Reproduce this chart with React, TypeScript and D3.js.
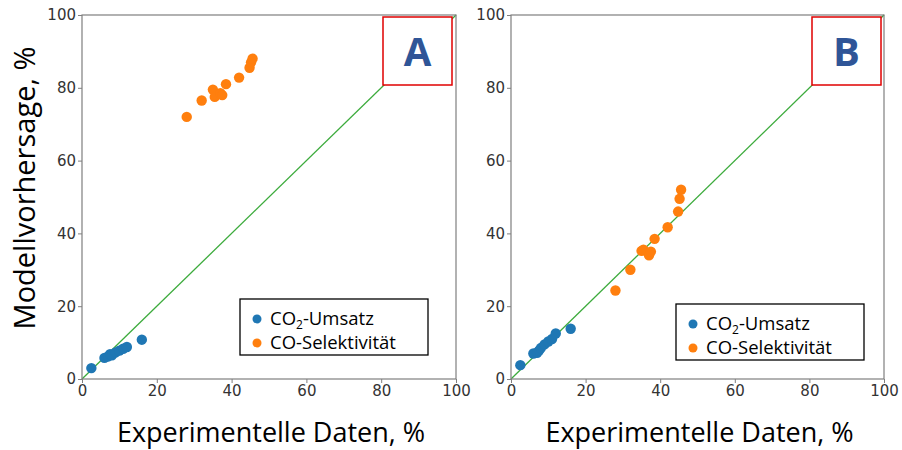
import React, { useEffect, useRef } from 'react';
import * as d3 from 'd3';

// experimental values (shared by both panels)
const convExp = [2.5, 6, 7, 7.5, 8, 9, 10, 11, 12, 16];
const selExp = [28, 32, 35, 35.5, 37, 37.5, 38.5, 42, 44.8, 45.2, 45.6];

// model predictions, panel A
const convPredA = [3, 5.8, 6.2, 6.8, 6.5, 7.3, 7.8, 8.3, 8.8, 10.8];
const selPredA = [72, 76.5, 79.5, 77.5, 78.5, 78, 81, 82.8, 85.5, 87, 88];

// model predictions, panel B
const convPredB = [3.8, 7, 7.2, 7.8, 8.5, 9.5, 10.3, 11, 12.5, 13.8];
const selPredB = [24.3, 30, 35.2, 35.5, 34, 35, 38.5, 41.7, 46, 49.5, 52];

const ticks = [0, 20, 40, 60, 80, 100];
const legendLabels = ['CO2-Umsatz', 'CO-Selektivität'];
const panelLetters = ['A', 'B'];

const BLUE = '#1f77b4';
const ORANGE = '#ff7f0e';
const GREEN = '#3cab3c';

const App = () => {
  const svgRef = useRef<SVGSVGElement>(null);

  useEffect(() => {
    const width = 902;
    const height = 450;
    const svg = d3.select(svgRef.current)
      .attr('width', width)
      .attr('height', height);
    svg.selectAll('*').remove();

    const panels = [
      { left: 82, right: 456, conv: convPredA, sel: selPredA, legX: 240, legY: 299, box: 383 },
      { left: 511, right: 884, conv: convPredB, sel: selPredB, legX: 676, legY: 304, box: 812 },
    ];
    const top = 15;
    const bottom = 379;

    panels.forEach((p, i) => {
      const x = d3.scaleLinear().domain([0, 100]).range([p.left, p.right]);
      const y = d3.scaleLinear().domain([0, 100]).range([bottom, top]);
      const g = svg.append('g');

      // diagonal
      g.append('line')
        .attr('x1', x(0)).attr('y1', y(0))
        .attr('x2', x(100)).attr('y2', y(100))
        .attr('stroke', GREEN).attr('stroke-width', 1.3);

      g.selectAll('.conv')
        .data(convExp)
        .enter().append('circle')
        .attr('cx', d => x(d))
        .attr('cy', (d, j) => y(p.conv[j]))
        .attr('r', 5.2)
        .attr('fill', BLUE);

      g.selectAll('.sel')
        .data(selExp)
        .enter().append('circle')
        .attr('cx', d => x(d))
        .attr('cy', (d, j) => y(p.sel[j]))
        .attr('r', 5.2)
        .attr('fill', ORANGE);

      // frame
      g.append('rect')
        .attr('x', p.left).attr('y', top)
        .attr('width', p.right - p.left).attr('height', bottom - top)
        .attr('fill', 'none').attr('stroke', '#7f7f7f').attr('stroke-width', 1.2);

      const ax = g.append('g')
        .attr('transform', `translate(0,${bottom})`)
        .call(d3.axisBottom(x).tickValues(ticks).tickSize(4).tickPadding(2));
      const ay = g.append('g')
        .attr('transform', `translate(${p.left},0)`)
        .call(d3.axisLeft(y).tickValues(ticks).tickSize(4).tickPadding(2));
      [ax, ay].forEach(a => {
        a.select('.domain').remove();
        a.selectAll('line').attr('stroke', '#7f7f7f');
        a.selectAll('text')
          .attr('fill', '#333')
          .style('font-family', 'DejaVu Sans')
          .style('font-size', '15px');
      });

      // x title
      g.append('text')
        .attr('x', (p.left + p.right) / 2 + 2)
        .attr('y', 442)
        .attr('text-anchor', 'middle')
        .style('font-family', 'Open Sans')
        .style('font-size', '27px')
        .attr('fill', '#000')
        .text('Experimentelle Daten, %');

      // legend
      const lg = g.append('g').attr('transform', `translate(${p.legX},${p.legY})`);
      lg.append('rect')
        .attr('width', 188).attr('height', 56)
        .attr('fill', '#fff').attr('stroke', '#000').attr('stroke-width', 1.3);
      legendLabels.forEach((lab, k) => {
        lg.append('circle')
          .attr('cx', 17).attr('cy', 20 + k * 24).attr('r', 4.5)
          .attr('fill', k === 0 ? BLUE : ORANGE);
        const t = lg.append('text')
          .attr('x', 30).attr('y', 26 + k * 24)
          .style('font-family', 'Open Sans')
          .style('font-size', '18.5px')
          .attr('fill', '#000');
        if (k === 0) {
          t.append('tspan').text('CO');
          t.append('tspan').attr('dy', 4).style('font-size', '12px').text('2');
          t.append('tspan').attr('dy', -4).text('-Umsatz');
        } else {
          t.text(lab);
        }
      });

      // panel letter box
      g.append('rect')
        .attr('x', p.box).attr('y', 17)
        .attr('width', 69).attr('height', 68)
        .attr('fill', '#fff').attr('stroke', '#e00000').attr('stroke-width', 1.5);
      g.append('text')
        .attr('x', p.box + 34.5).attr('y', 66)
        .attr('text-anchor', 'middle')
        .style('font-family', 'Open Sans')
        .style('font-weight', 'bold')
        .style('font-size', '40px')
        .attr('fill', '#2f5597')
        .text(panelLetters[i]);
    });

    // y title
    svg.append('text')
      .attr('transform', 'translate(35,188) rotate(-90)')
      .attr('text-anchor', 'middle')
      .style('font-family', 'Open Sans')
      .style('font-size', '29px')
      .attr('fill', '#000')
      .text('Modellvorhersage, %');
  }, []);

  return <svg ref={svgRef} style={{ display: 'block', position: 'absolute', left: 0, top: 0 }}></svg>;
};

export default App;
